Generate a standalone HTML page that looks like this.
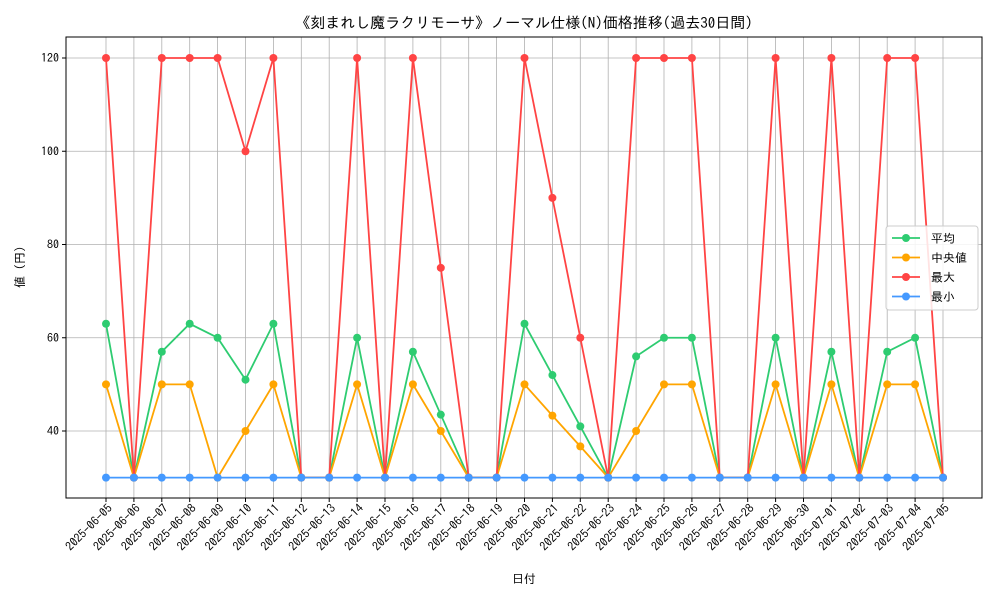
<!DOCTYPE html>
<html><head><meta charset="utf-8"><style>
body{margin:0;background:#fff;}
svg text{font-family:"IPAGothic","Noto Sans CJK JP",sans-serif;fill:#000;}
</style></head><body>
<svg id="chart" width="1000" height="600" xmlns="http://www.w3.org/2000/svg">
<rect width="1000" height="600" fill="#fff"/>
<text x="524" y="28" font-size="15" text-anchor="middle">《刻まれし魔ラクリモーサ》ノーマル仕様(N)価格推移(過去30日間)</text>
<g id="grid"></g><g id="axes"></g><g id="series"></g>
<text x="524" y="583" font-size="12" text-anchor="middle">日付</text>
<text x="24" y="267" font-size="12" text-anchor="middle" transform="rotate(-90 24 267)">値 (円)</text>
</svg>
<script>
const dates=["2025-06-05","2025-06-06","2025-06-07","2025-06-08","2025-06-09","2025-06-10","2025-06-11","2025-06-12","2025-06-13","2025-06-14","2025-06-15","2025-06-16","2025-06-17","2025-06-18","2025-06-19","2025-06-20","2025-06-21","2025-06-22","2025-06-23","2025-06-24","2025-06-25","2025-06-26","2025-06-27","2025-06-28","2025-06-29","2025-06-30","2025-07-01","2025-07-02","2025-07-03","2025-07-04","2025-07-05"];
const avgVals=[63,30,57,63,60,51,63,30,30,60,30,57,43.5,30,30,63,52,41,30,56,60,60,30,30,60,30,57,30,57,60,30];
const medVals=[50,30,50,50,30,40,50,30,30,50,30,50,40,30,30,50,43.3,36.7,30,40,50,50,30,30,50,30,50,30,50,50,30];
const maxVals=[120,30,120,120,120,100,120,30,30,120,30,120,75,30,30,120,90,60,30,120,120,120,30,30,120,30,120,30,120,120,30];
const minVals=[30,30,30,30,30,30,30,30,30,30,30,30,30,30,30,30,30,30,30,30,30,30,30,30,30,30,30,30,30,30,30];
const yTicks=[40,60,80,100,120];
const seriesNames=["平均","中央値","最大","最小"];
const NS="http://www.w3.org/2000/svg";
const L=66,R=982,T=37,B=498;
const xs=i=>106+i*(943-106)/(dates.length-1);
const ys=v=>431-(v-40)*(431-58)/80;
function mk(tag,attrs,parent){const e=document.createElementNS(NS,tag);for(const k in attrs)e.setAttribute(k,attrs[k]);parent.appendChild(e);return e;}
const grid=document.getElementById('grid'),axes=document.getElementById('axes'),ser=document.getElementById('series');
dates.forEach((d,i)=>{
 const g=mk('line',{x1:xs(i),x2:xs(i),y1:T,y2:B,stroke:'#b0b0b0','stroke-width':0.8},grid);
 
 
 const t=mk('line',{x1:xs(i),x2:xs(i),y1:B,y2:B+4,stroke:'#000'},axes);
 
 
 const ax=xs(i)+7,ay=B+11;
 const tx=mk('text',{x:ax,y:ay,'font-size':12,'text-anchor':'end',transform:`rotate(-45 ${ax} ${ay})`},axes);
 tx.textContent=d;
 
 
});
yTicks.forEach(v=>{
 const g=mk('line',{x1:L,x2:R,y1:ys(v),y2:ys(v),stroke:'#b0b0b0','stroke-width':0.8},grid);
 
 
 const t=mk('line',{x1:L-4,x2:L,y1:ys(v),y2:ys(v),stroke:'#000'},axes);
 
 
 const tx=mk('text',{x:L-7,y:ys(v)+4,'font-size':12,'text-anchor':'end'},axes);
 tx.textContent=v;
 
 
});
const frame=mk('rect',{x:L,y:T,width:R-L,height:B-T,fill:'none',stroke:'#000','stroke-width':1},axes);


const all=[[avgVals,'#2ecc71','avg'],[medVals,'#ffa500','median'],[maxVals,'#ff4444','max'],[minVals,'#4499ff','min']];
all.forEach(([vals,c,n])=>{
 const g=mk('g',{},ser);
 
 
 const p=mk('polyline',{points:vals.map((v,i)=>xs(i)+','+ys(v)).join(' '),fill:'none',stroke:c,'stroke-width':1.8},g);
 
 
 vals.forEach((v,i)=>{
  const m=mk('circle',{cx:xs(i),cy:ys(v),r:4,fill:c},g);
  
  
 });
});
const lg=mk('g',{},ser);


mk('rect',{x:886,y:226,width:92,height:84,rx:3,fill:'#fff','fill-opacity':0.85,stroke:'#ccc'},lg);
all.forEach(([v,c,n],i)=>{
 const y=238+i*19.5;
 const e=mk('g',{},lg);
 
 
 mk('line',{x1:892,x2:920,y1:y,y2:y,stroke:c,'stroke-width':1.8},e);
 mk('circle',{cx:906,cy:y,r:4,fill:c},e);
 const t=mk('text',{x:931,y:y+4.5,'font-size':12},e);
 t.textContent=seriesNames[i];
});
</script>
</body></html>
